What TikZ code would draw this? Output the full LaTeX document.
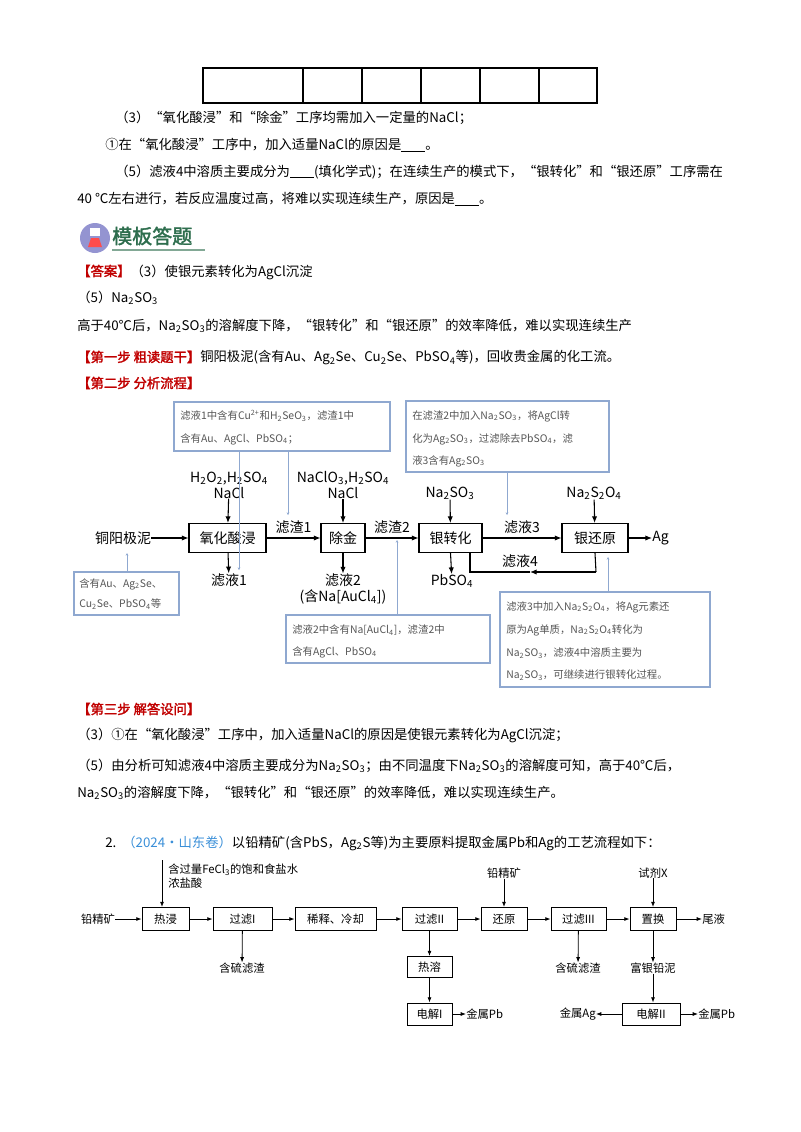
\documentclass[tikz,border=0pt]{standalone}
\usepackage{fontspec}
\setmainfont{Noto Sans CJK SC}[AutoFakeBold=2]
\usetikzlibrary{arrows.meta}
\newcommand\sbt[1]{\textsubscript{#1}}
\newcommand\blank{\rule[-1pt]{18pt}{0.5pt}}
\definecolor{hred}{HTML}{C00000}
\definecolor{cbl}{HTML}{8FA8D0}
\definecolor{ctx}{HTML}{555555}
\definecolor{tblue}{HTML}{3A8FD8}
\definecolor{tgreen}{HTML}{2E6E4E}
\begin{document}
\begin{tikzpicture}[x=0.75pt,y=-0.75pt,
 txt/.style={anchor=west,inner sep=0,font=\fontsize{10}{12}\selectfont},
 ctxt/.style={anchor=west,inner sep=0,text=ctx,font=\fontsize{7.8}{9}\selectfont},
 lbl/.style={inner sep=0,font=\fontsize{10.5}{12}\selectfont},
 slbl/.style={inner sep=0,font=\fontsize{8.5}{10}\selectfont},
 bxa/.style 2 args={draw,thick,minimum width={#1*0.75pt},minimum height={#2*0.75pt},inner sep=0,font=\fontsize{10.5}{12}\selectfont},
 bxb/.style 2 args={draw,semithick,minimum width={#1*0.75pt},minimum height={#2*0.75pt},inner sep=0,font=\fontsize{8.5}{10}\selectfont},
 arA/.style={thick,-{Latex[length=5pt,width=4pt]}},
 arB/.style={semithick,-{Latex[length=4pt,width=3pt]}},
 call/.style={draw=cbl,thick},
 cln/.style={draw=cbl,semithick,-{Stealth[length=2pt,width=2pt]}}]
\useasboundingbox (0,0) rectangle (800,1132);
% table
\draw[thick] (203,68) rectangle (597,103);
\foreach \xx in {303,362,421,480,539} \draw[thick] (\xx,68) -- (\xx,103);
% question text
\node[txt] (q3) at (115,118) {（3）“氧化酸浸”和“除金”工序均需加入一定量的NaCl；};
\node[txt] (q31) at (105,145) {①在“氧化酸浸”工序中，加入适量NaCl的原因是\blank。};
\node[txt] (q5) at (115,172) {（5）滤液4中溶质主要成分为\blank(填化学式)；在连续生产的模式下，“银转化”和“银还原”工序需在};
\node[txt] (q5b) at (77,199) {40 ℃左右进行，若反应温度过高，将难以实现连续生产，原因是\blank。};
% icon
\fill[gray!60!blue!60] (95,238) circle (15);
\fill[white] (90,228) rectangle (100,236);
\fill[red!70] (88,247) -- (102,247) -- (99,238) -- (91,238) -- cycle;
\node[anchor=west,inner sep=0,text=tgreen,font=\fontsize{15}{16}\selectfont\bfseries] (icon) at (112,236) {模板答题};
\draw[tgreen!60,thick] (112,250) -- (205,250);
% answer
\node[txt] (ans) at (77,272) {\textcolor{hred}{\bfseries【答案】}（3）使银元素转化为AgCl沉淀};
\node[txt] (ans5) at (77,298) {（5）Na\sbt{2}SO\sbt{3}};
\node[txt] (ans6) at (77,326) {高于40℃后，Na\sbt{2}SO\sbt{3}的溶解度下降，“银转化”和“银还原”的效率降低，难以实现连续生产};
\node[txt] (s1) at (77,358) {\textcolor{hred}{\bfseries【第一步\ 粗读题干】}铜阳极泥(含有Au、Ag\sbt{2}Se、Cu\sbt{2}Se、PbSO\sbt{4}等)，回收贵金属的化工流。};
\node[txt,text=hred,font=\fontsize{10}{12}\selectfont\bfseries] (s2) at (77,383) {【第二步\ 分析流程】};
% flowchart 1
\node[bxa={77}{29}] (yh) at (227.5,538) {氧化酸浸};
\node[bxa={44}{29}] (cj) at (343,538) {除金};
\node[bxa={63}{29}] (zh) at (450.5,538) {银转化};
\node[bxa={66}{29}] (hy) at (595,538) {银还原};
\node[lbl] (tyjn) at (123,538) {铜阳极泥};
\node[lbl,anchor=west] (ag) at (652,538) {Ag};
\draw[arA] (tyjn) -- (yh);
\draw[arA] (yh) -- node[lbl,above=3pt] (lz1) {滤渣1} (cj);
\draw[arA] (cj) -- node[lbl,above=3pt] (lz2) {滤渣2} (zh);
\draw[arA] (zh) -- node[lbl,above=3pt] (ly3) {滤液3} (hy);
\draw[arA] (hy) -- (ag);
\node[lbl,align=center] (r1) at (229,485) {H\sbt{2}O\sbt{2},H\sbt{2}SO\sbt{4}\\NaCl};
\node[lbl,align=center] (r2) at (343,485) {NaClO\sbt{3},H\sbt{2}SO\sbt{4}\\NaCl};
\node[lbl] (r3) at (450,493) {Na\sbt{2}SO\sbt{3}};
\node[lbl] (r4) at (594,493) {Na\sbt{2}S\sbt{2}O\sbt{4}};
\draw[arA] (r1) -- (yh);
\draw[arA] (r2) -- (cj);
\draw[arA] (r3) -- (zh);
\draw[arA] (r4) -- (hy);
\node[lbl] (ly1) at (229,580) {滤液1};
\node[lbl,align=center] (ly2) at (343,589) {滤液2\\(含Na[AuCl\sbt{4}])};
\node[lbl] (pb) at (452,581) {PbSO\sbt{4}};
\draw[arA] (yh) -- (ly1);
\draw[arA] (cj) -- (ly2);
\draw[arA] (zh.south) -- (pb);
\coordinate (fb1) at (596,572);
\coordinate (fb2) at (470,572);
\draw[thick] (hy.south) -- (fb1);
\draw[arA] (fb1) -- (530,572);
\draw[thick] (530,572) -- (fb2) -- (470,553);
\node[lbl] (ly4) at (520,561) {滤液4};
% callouts
\draw[call] (174,402) rectangle (390,451);
\node[ctxt] (c1a) at (180,416) {滤液1中含有Cu\textsuperscript{2+}和H\sbt{2}SeO\sbt{3}，滤渣1中};
\node[ctxt] (c1b) at (180,439) {含有Au、AgCl、PbSO\sbt{4}；};
\draw[cln] (239,451) -- (239,570);
\draw[cln] (288,451) -- (288,515);
\draw[call] (406,401) rectangle (609,472);
\node[ctxt] (c2a) at (412,416) {在滤渣2中加入Na\sbt{2}SO\sbt{3}，将AgCl转};
\node[ctxt] (c2b) at (412,439) {化为Ag\sbt{2}SO\sbt{3}，过滤除去PbSO\sbt{4}，滤};
\node[ctxt] (c2c) at (412,461) {液3含有Ag\sbt{2}SO\sbt{3}};
\draw[cln] (507,472) -- (507,515);
\draw[call] (74,572) rectangle (179,615);
\node[ctxt] (c3a) at (79,584) {含有Au、Ag\sbt{2}Se、};
\node[ctxt] (c3b) at (79,604) {Cu\sbt{2}Se、PbSO\sbt{4}等};
\draw[cln] (127,572) -- (127,553);
\draw[call] (286,615) rectangle (490,663);
\node[ctxt] (c4a) at (292,630) {滤液2中含有Na[AuCl\sbt{4}]，滤渣2中};
\node[ctxt] (c4b) at (292,652) {含有AgCl、PbSO\sbt{4}};
\draw[cln] (397,615) -- (397,540);
\draw[call] (500,592) rectangle (710,687);
\node[ctxt] (c5a) at (506,607) {滤液3中加入Na\sbt{2}S\sbt{2}O\sbt{4}，将Ag元素还};
\node[ctxt] (c5b) at (506,630) {原为Ag单质，Na\sbt{2}S\sbt{2}O\sbt{4}转化为};
\node[ctxt] (c5c) at (506,653) {Na\sbt{2}SO\sbt{3}，滤液4中溶质主要为};
\node[ctxt] (c5d) at (506,675) {Na\sbt{2}SO\sbt{3}，可继续进行银转化过程。};
\draw[cln] (608,592) -- (608,557);
% step 3
\node[txt,text=hred,font=\fontsize{10}{12}\selectfont\bfseries] (s3) at (77,709) {【第三步\ 解答设问】};
\node[txt] (a3) at (77,735) {（3）①在“氧化酸浸”工序中，加入适量NaCl的原因是使银元素转化为AgCl沉淀；};
\node[txt] (a5) at (77,766) {（5）由分析可知滤液4中溶质主要成分为Na\sbt{2}SO\sbt{3}；由不同温度下Na\sbt{2}SO\sbt{3}的溶解度可知，高于40℃后，};
\node[txt] (a5b) at (77,793) {Na\sbt{2}SO\sbt{3}的溶解度下降，“银转化”和“银还原”的效率降低，难以实现连续生产。};
\node[txt] (q2) at (105,843) {2.\ \ \textcolor{tblue}{（2024·山东卷）}以铅精矿(含PbS，Ag\sbt{2}S等)为主要原料提取金属Pb和Ag的工艺流程如下：};
% flowchart 2
\node[bxb={47}{23}] (rj) at (165.5,919) {热浸};
\node[bxb={59}{23}] (g1) at (242.5,919) {过滤I};
\node[bxb={81}{23}] (xs) at (335.5,919) {稀释、冷却};
\node[bxb={55}{23}] (g2) at (429.5,919) {过滤II};
\node[bxb={46}{23}] (hy2) at (504,919) {还原};
\node[bxb={55}{23}] (g3) at (578.5,919) {过滤III};
\node[bxb={46}{23}] (zhh) at (653,919) {置换};
\node[bxb={45}{21}] (rr) at (429.5,967) {热溶};
\node[bxb={45}{22}] (d1) at (429.5,1014) {电解I};
\node[bxb={58}{22}] (d2) at (651,1014) {电解II};
\node[slbl] (qjk) at (98,919) {铅精矿};
\node[slbl,anchor=west] (wy) at (702,919) {尾液};
\draw[arB] (qjk) -- (rj);
\draw[arB] (rj) -- (g1);
\draw[arB] (g1) -- (xs);
\draw[arB] (xs) -- (g2);
\draw[arB] (g2) -- (hy2);
\draw[arB] (hy2) -- (g3);
\draw[arB] (g3) -- (zhh);
\draw[arB] (zhh) -- (wy);
\coordinate (rtop) at (162,860);
\draw[arB] (rtop) -- (rj.north -| rtop);
\node[slbl,anchor=west,align=left] (rg1) at (168,876) {含过量FeCl\sbt{3}的饱和食盐水\\浓盐酸};
\node[slbl] (qjk2) at (504,873) {铅精矿};
\draw[arB] (qjk2) -- (hy2);
\node[slbl] (sjx) at (653,873) {试剂X};
\draw[arB] (sjx) -- (zhh);
\node[slbl] (hl1) at (242,968) {含硫滤渣};
\draw[arB] (g1) -- (hl1);
\node[slbl] (hl2) at (578,968) {含硫滤渣};
\draw[arB] (g3) -- (hl2);
\draw[arB] (g2) -- (rr);
\draw[arB] (rr) -- (d1);
\node[slbl,anchor=west] (pb1) at (466,1014) {金属Pb};
\draw[arB] (d1) -- (pb1);
\node[slbl] (fy) at (653,968) {富银铅泥};
\draw[arB] (zhh) -- (fy);
\draw[arB] (fy) -- (d2.north -| fy);
\node[slbl,anchor=east] (agm) at (596,1014) {金属Ag};
\draw[arB] (d2) -- (agm);
\node[slbl,anchor=west] (pb2) at (698,1014) {金属Pb};
\draw[arB] (d2) -- (pb2);
\end{tikzpicture}
\end{document}
